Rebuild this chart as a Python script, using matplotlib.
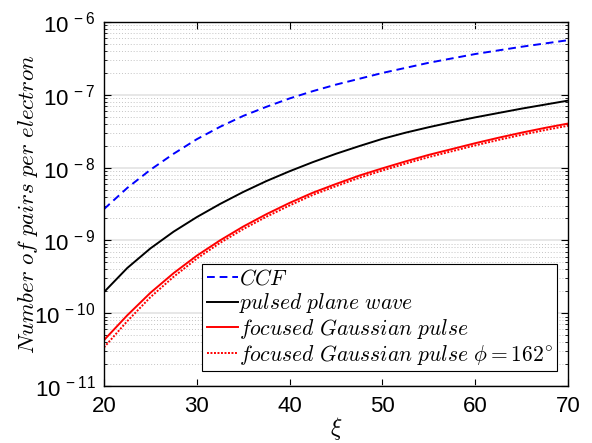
import numpy as np
import matplotlib
matplotlib.use("Agg")
import matplotlib.pyplot as plt
from matplotlib.ticker import LogLocator, FuncFormatter, NullFormatter
from matplotlib.font_manager import FontProperties

# values, as log10 of the number of pairs per electron
xi = [20, 22.5, 25, 27.5, 30, 32.5, 35, 37.5, 40, 42.5, 45,
      47.5, 50, 52.5, 55, 57.5, 60, 62.5, 65, 67.5, 70]
log_ccf = [-8.57, -8.28, -8.03, -7.81, -7.61, -7.44, -7.29, -7.165, -7.05, -6.95, -6.86,
           -6.78, -6.70, -6.63, -6.56, -6.50, -6.44, -6.39, -6.34, -6.295, -6.25]
log_plane = [-9.71, -9.38, -9.11, -8.88, -8.68, -8.50, -8.335, -8.185, -8.05, -7.925, -7.81,
             -7.705, -7.605, -7.52, -7.445, -7.375, -7.31, -7.25, -7.19, -7.135, -7.08]
log_gauss = [-10.37, -10.03, -9.72, -9.45, -9.21, -9.00, -8.81, -8.64, -8.485, -8.345, -8.225,
             -8.11, -8.01, -7.915, -7.825, -7.745, -7.665, -7.59, -7.52, -7.455, -7.395]
log_gauss162 = [-10.47, -10.11, -9.78, -9.50, -9.25, -9.035, -8.845, -8.675, -8.52, -8.375, -8.255,
                -8.14, -8.04, -7.945, -7.855, -7.775, -7.695, -7.62, -7.55, -7.485, -7.425]

ccf = 10.0 ** np.array(log_ccf)
plane = 10.0 ** np.array(log_plane)
gauss = 10.0 ** np.array(log_gauss)
gauss162 = 10.0 ** np.array(log_gauss162)

plt.rcParams['font.family'] = ['Liberation Sans', 'DejaVu Sans']

fig = plt.figure(figsize=(5.92, 4.43), dpi=100)
ax = fig.add_axes([104/592, 1 - 386/443, 464/592, 364/443])

ax.plot(xi, ccf, color='blue', lw=1.4, ls=(0, (4, 2.5)), label=r'$CCF$')
ax.plot(xi, plane, '-', color='black', lw=1.4, label=r'$pulsed\ plane\ wave$')
ax.plot(xi, gauss, '-', color='red', lw=1.4, label=r'$focused\ Gaussian\ pulse$')
ax.plot(xi, gauss162, color='red', lw=1.4, ls=(0, (1, 0.8)),
        label=r'$focused\ Gaussian\ pulse\ \phi = 162^{\circ}$')

ax.set_yscale('log')
ax.set_xlim(20, 70)
ax.set_ylim(1e-11, 1e-6)
ax.set_xticks([20, 30, 40, 50, 60, 70])
ax.yaxis.set_major_locator(LogLocator(base=10, numticks=10))
ax.yaxis.set_minor_locator(LogLocator(base=10, subs=np.arange(2, 10), numticks=20))
ax.yaxis.set_minor_formatter(NullFormatter())
ax.yaxis.set_major_formatter(FuncFormatter(
    lambda v, p: r'$\mathregular{10^{\,%d}}$' % round(np.log10(v))))

ax.tick_params(which='both', direction='in', top=True, right=True, labelsize=16)
ax.tick_params(axis='x', pad=7)
ax.tick_params(axis='y', pad=6)
ax.tick_params(which='major', length=5, width=0.8)
ax.tick_params(which='minor', length=2.5, width=0.6)
for s in ax.spines.values():
    s.set_linewidth(1.0)

ax.yaxis.grid(True, which='major', color='#e3e3e3', lw=1.2, ls='-')
ax.yaxis.grid(True, which='minor', color='#c4c4c4', lw=0.7, ls=(0, (1, 2)))
ax.set_axisbelow(True)

ax.set_xlabel(r'$\xi$', fontsize=17, math_fontfamily='cm', labelpad=-1)
ax.set_ylabel(r'$Number\ of\ pairs\ per\ electron$', fontsize=16.5,
              math_fontfamily='cm', labelpad=-4)

leg = ax.legend(loc='lower right', bbox_to_anchor=(453/464, 15/364),
                prop=FontProperties(size=15.5, math_fontfamily='cm'),
                fancybox=False, edgecolor='black', framealpha=1,
                handlelength=1.45, handletextpad=0.05, borderpad=0.2,
                labelspacing=0.08, borderaxespad=0)
leg.get_frame().set_linewidth(0.8)

fig.savefig('out.png', dpi=100)
